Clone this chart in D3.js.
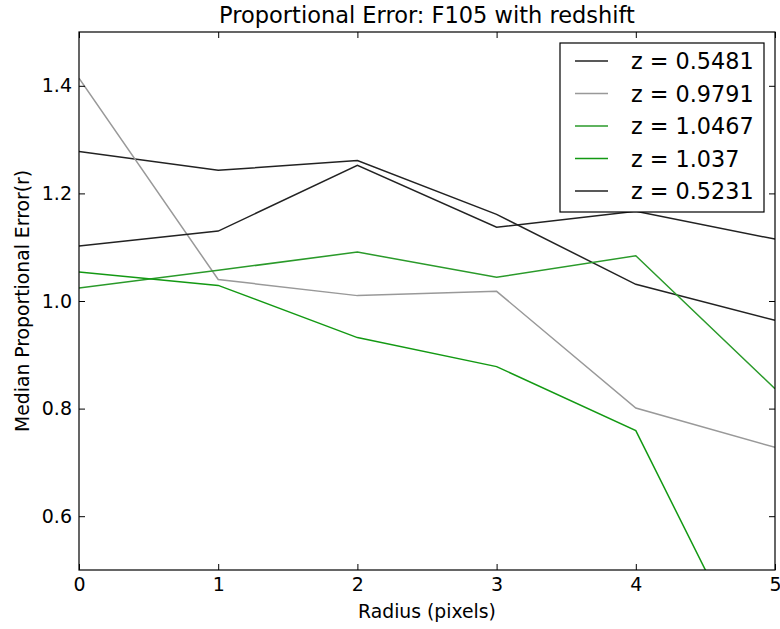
<!DOCTYPE html>
<html>
<head>
<meta charset="utf-8">
<script src="https://cdn.jsdelivr.net/npm/d3@7"></script>
<style>
  body { margin: 0; background: #fff; }
  text { font-family: "DejaVu Sans", sans-serif; fill: #000; }
</style>
</head>
<body>
<div id="chart"></div>
<script>

// values
var radius = [0, 1, 2, 3, 4, 5];
var labels = ["z = 0.5481", "z = 0.9791", "z = 1.0467", "z = 1.037", "z = 0.5231"];
var colors = ["#222", "#999", "#2a9a2a", "#139913", "#222"];
var z05481 = [1.278, 1.243, 1.261, 1.161, 1.031, 0.964];
var z09791 = [1.414, 1.040, 1.010, 1.018, 0.801, 0.728];
var z10467 = [1.024, 1.057, 1.091, 1.044, 1.084, 0.837];
var z1037  = [1.054, 1.029, 0.932, 0.878, 0.759, 0.241];
var z05231 = [1.102, 1.130, 1.252, 1.137, 1.167, 1.115];
var series = [z05481, z09791, z10467, z1037, z05231];
var xTicks = [0, 1, 2, 3, 4, 5];
var yTicks = [0.6, 0.8, 1.0, 1.2, 1.4];

var W = 780, H = 629;
var margin = {left: 79, right: 5, top: 32, bottom: 59};

var svg = d3.select("#chart").append("svg").attr("width", W).attr("height", H);
var width = W - margin.left - margin.right,
  height = H - margin.top - margin.bottom;

var x = d3.scaleLinear().domain([0, 5]).range([0, width]);
var y = d3.scaleLinear().domain([0.5, 1.5]).range([height, 0]);

var g = svg.append("g").attr("transform", "translate(" + margin.left + "," + margin.top + ")");

g.append("clipPath").attr("id", "clip")
  .append("rect").attr("width", width).attr("height", height);

var line = d3.line()
  .x(function (d, i) { return x(radius[i]); })
  .y(function (d) { return y(d); });

var lines = g.append("g").attr("clip-path", "url(#clip)");
series.forEach(function (s, i) {
  lines.append("path")
    .attr("d", line(s))
    .attr("fill", "none")
    .attr("stroke", colors[i])
    .attr("stroke-width", 1.5);
});

// axes, ticks pointing inward on all four sides
function styleAxis(sel) {
  sel.select(".domain").remove();
  sel.selectAll(".tick line").attr("stroke", "#000");
  sel.selectAll(".tick text").style("font-size", "19px").style("font-family", "DejaVu Sans");
}

g.append("g").attr("transform", "translate(0," + height + ")")
  .call(d3.axisBottom(x).tickValues(xTicks).tickFormat(d3.format("d")).tickSizeInner(-6).tickPadding(8))
  .call(styleAxis);
g.append("g")
  .call(d3.axisTop(x).tickValues(xTicks).tickFormat("").tickSizeInner(-6))
  .call(styleAxis);
g.append("g")
  .call(d3.axisLeft(y).tickValues(yTicks).tickFormat(d3.format(".1f")).tickSizeInner(-6).tickPadding(7))
  .call(styleAxis);
g.append("g").attr("transform", "translate(" + width + ",0)")
  .call(d3.axisRight(y).tickValues(yTicks).tickFormat("").tickSizeInner(-6))
  .call(styleAxis);

g.append("rect").attr("width", width).attr("height", height)
  .attr("fill", "none").attr("stroke", "#000").attr("stroke-width", 1.2);

// titles
svg.append("text").attr("x", margin.left + width / 2).attr("y", 23)
  .attr("text-anchor", "middle").style("font-size", "22.5px")
  .text("Proportional Error: F105 with redshift");
svg.append("text").attr("x", margin.left + width / 2).attr("y", 618)
  .attr("text-anchor", "middle").style("font-size", "18.8px")
  .text("Radius (pixels)");
svg.append("text")
  .attr("transform", "translate(29," + (margin.top + height / 2) + ") rotate(-90)")
  .attr("text-anchor", "middle").style("font-size", "18.8px")
  .text("Median Proportional Error(r)");

// legend
var legend = svg.append("g").attr("transform", "translate(560,43)");
legend.append("rect").attr("width", 204).attr("height", 169)
  .attr("fill", "#fff").attr("stroke", "#000").attr("stroke-width", 1.2);
labels.forEach(function (lab, i) {
  var ly = 18 + i * 32.5;
  legend.append("line").attr("x1", 15).attr("x2", 48).attr("y1", ly).attr("y2", ly)
    .attr("stroke", colors[i]).attr("stroke-width", 1.5);
  legend.append("text").attr("x", 71).attr("y", ly + 8).style("font-size", "22.3px").text(lab);
});

</script>
</body>
</html>
